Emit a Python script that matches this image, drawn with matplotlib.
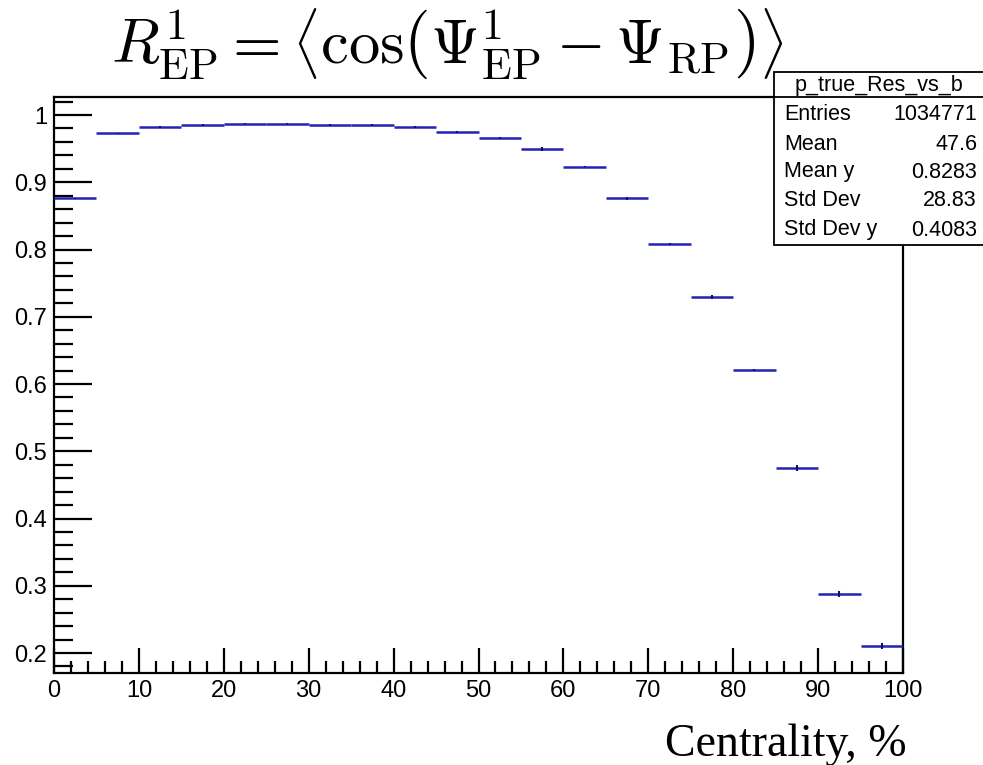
import matplotlib
matplotlib.use("Agg")
import matplotlib.pyplot as plt
from matplotlib.ticker import MultipleLocator
from matplotlib.patches import Rectangle
from matplotlib.lines import Line2D

# ---- data ----
bin_edges = [0, 5, 10, 15, 20, 25, 30, 35, 40, 45, 50, 55, 60, 65, 70, 75, 80, 85, 90, 95, 100]
resolution = [0.876, 0.973, 0.982, 0.985, 0.987, 0.987, 0.985, 0.985, 0.982, 0.975,
              0.966, 0.950, 0.923, 0.876, 0.808, 0.729, 0.621, 0.475, 0.288, 0.210]
res_err = [0.001, 0.001, 0.001, 0.001, 0.001, 0.001, 0.001, 0.001, 0.002, 0.001,
           0.002, 0.003, 0.001, 0.002, 0.002, 0.003, 0.002, 0.004, 0.004, 0.0045]
stats_name = "p_true_Res_vs_b"
stats_labels = ["Entries", "Mean", "Mean y", "Std Dev", "Std Dev y"]
stats_values = ["1034771", "47.6", "0.8283", "28.83", "0.4083"]
title_text = r"$R^{1}_{\rm EP} = \left\langle\cos\!\left(\Psi^{1}_{\rm EP} - \Psi_{\rm RP}\right)\right\rangle$"
xlabel_text = "Centrality, %"

W, H = 983, 765
plt.rcParams['mathtext.fontset'] = 'cm'
plt.rcParams['font.family'] = ['Liberation Sans', 'DejaVu Sans']
fig = plt.figure(figsize=(W / 100, H / 100), dpi=100)

def fx(px):
    return px / W

def fy(py):
    return 1 - py / H

ax = fig.add_axes([fx(54), fy(673), fx(903) - fx(54), fy(97) - fy(673)])

lows = bin_edges[:-1]
highs = bin_edges[1:]
centers = [(a + b) / 2 for a, b in zip(lows, highs)]
line_color = '#2323b4'
ax.hlines(resolution, lows, highs, colors=line_color, linewidth=1.8, zorder=3)
ax.errorbar(centers, resolution, yerr=res_err, fmt='none', ecolor='#10106a',
            elinewidth=1.5, capsize=0, zorder=4)

ax.set_xlim(0, 100)
ax.set_ylim(0.1703, 1.0268)
ax.xaxis.set_major_locator(MultipleLocator(10))
ax.xaxis.set_minor_locator(MultipleLocator(2))
ax.yaxis.set_major_locator(MultipleLocator(0.1))
ax.yaxis.set_minor_locator(MultipleLocator(0.02))
ax.set_xticks(range(0, 101, 10))
ax.set_xticklabels([str(v) for v in range(0, 101, 10)])
yt = [0.2, 0.3, 0.4, 0.5, 0.6, 0.7, 0.8, 0.9, 1.0]
ax.set_yticks(yt)
ax.set_yticklabels(["0.2", "0.3", "0.4", "0.5", "0.6", "0.7", "0.8", "0.9", "1"])
ax.tick_params(axis='both', which='both', direction='in', top=False, right=False,
               colors='black', labelsize=17, width=1.6)
ax.tick_params(axis='y', which='major', length=27, pad=5)
ax.tick_params(axis='y', which='minor', length=14)
ax.tick_params(axis='x', which='major', length=18, pad=5)
ax.tick_params(axis='x', which='minor', length=9)
for sp in ax.spines.values():
    sp.set_linewidth(1.6)
    sp.set_color('black')

# title
fig.text(fx(447), fy(63), title_text, fontsize=45, ha='center', va='baseline')

# x label
fig.text(fx(907), fy(756), xlabel_text, fontsize=33, ha='right', va='baseline',
         family='Liberation Serif')

# stats box
x0, x1 = fx(774), fx(985)
y_top, y_sep, y_bot = fy(72), fy(97), fy(245)
fig.patches.append(Rectangle((x0, y_bot), x1 - x0, y_top - y_bot, transform=fig.transFigure,
                             facecolor='white', edgecolor='black', linewidth=1.3, zorder=10))
fig.lines.append(Line2D([x0, x1], [y_sep, y_sep], transform=fig.transFigure,
                        color='black', linewidth=1.3, zorder=11))
fs = 15.5
fig.text((fx(774) + fx(983)) / 2, fy(85), stats_name, fontsize=fs, ha='center', va='center', zorder=12)
row_y = [115, 144, 172, 201, 230]
for lab, val, ry in zip(stats_labels, stats_values, row_y):
    fig.text(fx(784), fy(ry), lab, fontsize=fs, ha='left', va='center', zorder=12)
    fig.text(fx(977), fy(ry), val, fontsize=fs, ha='right', va='center', zorder=12)

fig.savefig("out.png", dpi=100)
